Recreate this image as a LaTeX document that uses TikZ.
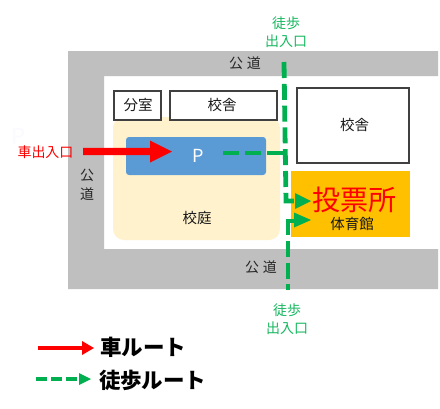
\documentclass[tikz,border=0pt]{standalone}
\usepackage{fontspec}
\setmainfont{Noto Sans CJK JP}
\usetikzlibrary{arrows.meta}
\definecolor{roadgray}{HTML}{BFBFBF}
\definecolor{yardcream}{HTML}{FFF2CC}
\definecolor{lotblue}{HTML}{5B9BD5}
\definecolor{gymorange}{HTML}{FFC000}
\definecolor{walkgreen}{HTML}{00B050}
\tikzset{
  every node/.style={inner sep=0pt,outer sep=0pt,align=center},
  road/.style={fill=roadgray,draw=none},
  bldg/.style={draw=black!75,line width=1.1pt,fill=white},
  lbl/.style={font=\fontsize{14.5}{16}\selectfont,text=black!90},
  roadlbl/.style={font=\fontsize{14}{16}\selectfont,text=black!85},
  walklbl/.style={font=\fontsize{14}{18.5}\selectfont,text=walkgreen!90!white},
  walk/.style={draw=walkgreen,line width=4.8pt,dash pattern=on 16pt off 5.8pt},
  walkstub/.style={draw=walkgreen,line width=4.8pt},
  walkhead/.style={fill=walkgreen,draw=none},
  legendlbl/.style={font=\fontsize{21.5}{23}\selectfont\bfseries,text=black}
}
\begin{document}
\begin{tikzpicture}[x=1pt,y=-1pt]
\useasboundingbox (0,0) rectangle (440,408);
\fill[white] (0,0) rectangle (440,408);
% faint stray letter
\node[font=\fontsize{22}{24}\selectfont,text=blue!2] (stray) at (18,136) {P};
% roads
\path[road] (68,51) -- (438,51) -- (438,76) -- (104,76) -- (104,249) -- (438,249) -- (438,289) -- (68,289) -- cycle;
% yard
\fill[yardcream,rounded corners=11pt] (113,117) rectangle (280,240);
\node[lbl] (yard) at (197,218) {校庭};
% parking
\fill[lotblue,rounded corners=3pt] (126,137) rectangle (266,175);
\node[font=\fontsize{18}{20}\selectfont,text=white] (park) at (198,156) {P};
% buildings
\node[bldg,minimum width=47pt,minimum height=29pt] (bunshitsu) at (137.5,105.5) {};
\node[lbl] at (138,105.5) {分室};
\node[bldg,minimum width=107pt,minimum height=29pt] (kosha) at (223.5,105.5) {};
\node[lbl] at (222,105.5) {校舎};
\node[bldg,minimum width=112pt,minimum height=75pt] (koshab) at (353,125.5) {};
\node[lbl] at (354.5,125.5) {校舎};
% gym
\fill[gymorange] (291,171) rectangle (410,237);
\node[font=\fontsize{28}{30}\selectfont,text=red] (vote) at (354.5,199.5) {投票所};
\node[lbl] (gym) at (352,224) {体育館};
% road labels
\node[roadlbl] (r1) at (245,63.5) {公\hspace{4pt}道};
\node[roadlbl,font=\fontsize{14}{19}\selectfont] (r2) at (87,184.5) {公\\道};
\node[roadlbl] (r3) at (261,267.5) {公\hspace{4pt}道};
% walk labels
\node[walklbl] (w1) at (286,32) {徒歩\\出入口};
\node[walklbl] (w2) at (287,319) {徒歩\\出入口};
% car route
\node[font=\fontsize{14}{16}\selectfont,text=red] (carin) at (45.5,152.5) {車出入口};
\coordinate (c0) at (83,151.5);
\coordinate (c1) at (172,151.5);
\fill[red] (c0) ++(0,-3.7) -- ++(67,0) -- ++(0,-7.3) -- (c1) -- ++(-22,11) -- ++(0,-7.3) -- ++(-67,0) -- cycle;
% walk routes
\coordinate (a0) at (284,62);
\coordinate (a1) at (286,201);
\coordinate (a2) at (296,201);
\coordinate (b0) at (288,219);
\coordinate (b1) at (288,290);
\coordinate (b2) at (288,221);
\coordinate (b3) at (295,221);
\coordinate (p0) at (223,153);
\coordinate (p1) at (286,153);
\draw[walk] (p0) -- (p1);
\draw[walk] (a0) -- (a1) -- (a2);
\draw[walk] (b0) -- (b1);
\draw[walkstub] (b2) -- (b3);
\fill[walkhead] (295,193) -- (311,201) -- (295,209) -- cycle;
\fill[walkhead] (294,212.5) -- (311,220) -- (294,227.5) -- cycle;
% legend
\draw[red,line width=3.8pt] (38,348) -- (83,348);
\fill[red] (82,341) -- (94,348) -- (82,355) -- cycle;
\draw[walkgreen,line width=3.2pt,dash pattern=on 11pt off 4pt] (36,379) -- (79,379);
\fill[walkgreen] (79,373) -- (91,379) -- (79,385) -- cycle;
\node[legendlbl,anchor=west] (l1) at (100,347) {車ルート};
\node[legendlbl,anchor=west] (l2) at (99,380) {徒歩ルート};
\end{tikzpicture}
\end{document}
